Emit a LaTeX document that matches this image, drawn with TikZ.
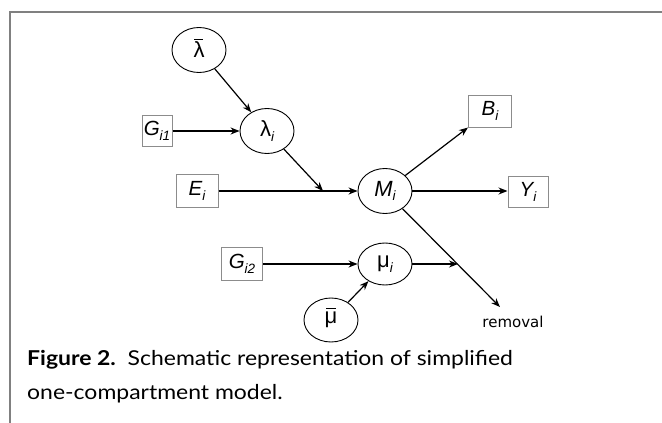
\documentclass[tikz,border=0pt]{standalone}
\usepackage{fontspec}
\setmainfont{Liberation Sans}
\newfontfamily\capfont[FakeStretch=1.12]{Lato}
\newfontfamily\remfont{DejaVu Sans}
\usetikzlibrary{shapes.geometric,arrows.meta}
\newcommand{\sbs}[1]{\raisebox{-0.4ex}{\fontsize{13.5}{13.5}\selectfont #1}}
\begin{document}
\begin{tikzpicture}[x=1pt,y=-1pt,
  ell/.style={draw=black,ellipse,line width=0.9pt,inner sep=0pt,minimum width=54pt,minimum height=45pt,font=\fontsize{22}{22}\selectfont},
  box/.style={draw=black!45,rectangle,line width=1pt,inner sep=0pt,font=\fontsize{20.5}{20.5}\selectfont\itshape},
  arr/.style={line width=1.2pt,-{Stealth[length=9pt,width=7pt]}},
  barline/.style={line width=0.9pt},
  captext/.style={anchor=base west,inner sep=0pt,font=\fontsize{20.5}{20.5}\selectfont\capfont}]
\useasboundingbox (0,0) rectangle (662,423);
\draw[black!50,line width=1.5pt] (10,423) -- (10,12) -- (662,12);
% nodes
\node[ell] (lbar) at (199,50) {λ};
\node[ell] (lam) at (267,131) {λ\sbs{\itshape i}};
\node[ell] (M) at (385,191) {\itshape M\sbs{i}};
\node[ell,minimum height=42pt] (mu) at (385,264) {μ\sbs{\itshape i}};
\node[ell,minimum height=44pt] (mubar) at (331,320) {μ};
\node[box,minimum width=30pt,minimum height=31pt] (G1) at (157,131) {G\sbs{i1}};
\node[box,minimum width=42pt,minimum height=33pt] (E) at (197,191) {E\sbs{i}};
\node[box,minimum width=43pt,minimum height=32pt] (B) at (490,111) {B\sbs{i}};
\node[box,minimum width=40pt,minimum height=31pt] (Y) at (528,192) {Y\sbs{i}};
\node[box,minimum width=41pt,minimum height=33pt] (G2) at (242,264) {G\sbs{i2}};
% bars over lambda and mu
\draw[barline] ([xshift=-5pt,yshift=11pt]lbar.center) -- ([xshift=4pt,yshift=11pt]lbar.center);
\draw[barline] ([xshift=-5pt,yshift=11.5pt]mubar.center) -- ([xshift=5pt,yshift=11.5pt]mubar.center);
\coordinate (j1) at (323,191);
\coordinate (j2) at (458,264);
\coordinate (rem) at (500,307);
\node[anchor=base,font=\fontsize{15}{15}\selectfont\remfont,inner sep=0pt] (remt) at (513,327) {removal};
% connectors
\draw[arr] (lbar) -- (lam);
\draw[arr] (G1) -- (lam);
\draw[arr] (lam) -- (j1);
\draw[arr] (E.east) -- (M.west);
\draw[arr] (M) -- (B.south west);
\draw[arr] (M.east) -- (Y.west |- M.east);
\draw[arr] (M) -- (rem);
\draw[arr] (G2) -- (mu);
\draw[arr] (mu) -- (j2);
\draw[arr] (mubar) -- (mu);
% caption
\node[captext] (cap1) at (27,365) {\textbf{Figure 2.}\ \ Schematic representation of simplified};
\node[captext] (cap2) at (27,399) {one-compartment model.};
\end{tikzpicture}
\end{document}
